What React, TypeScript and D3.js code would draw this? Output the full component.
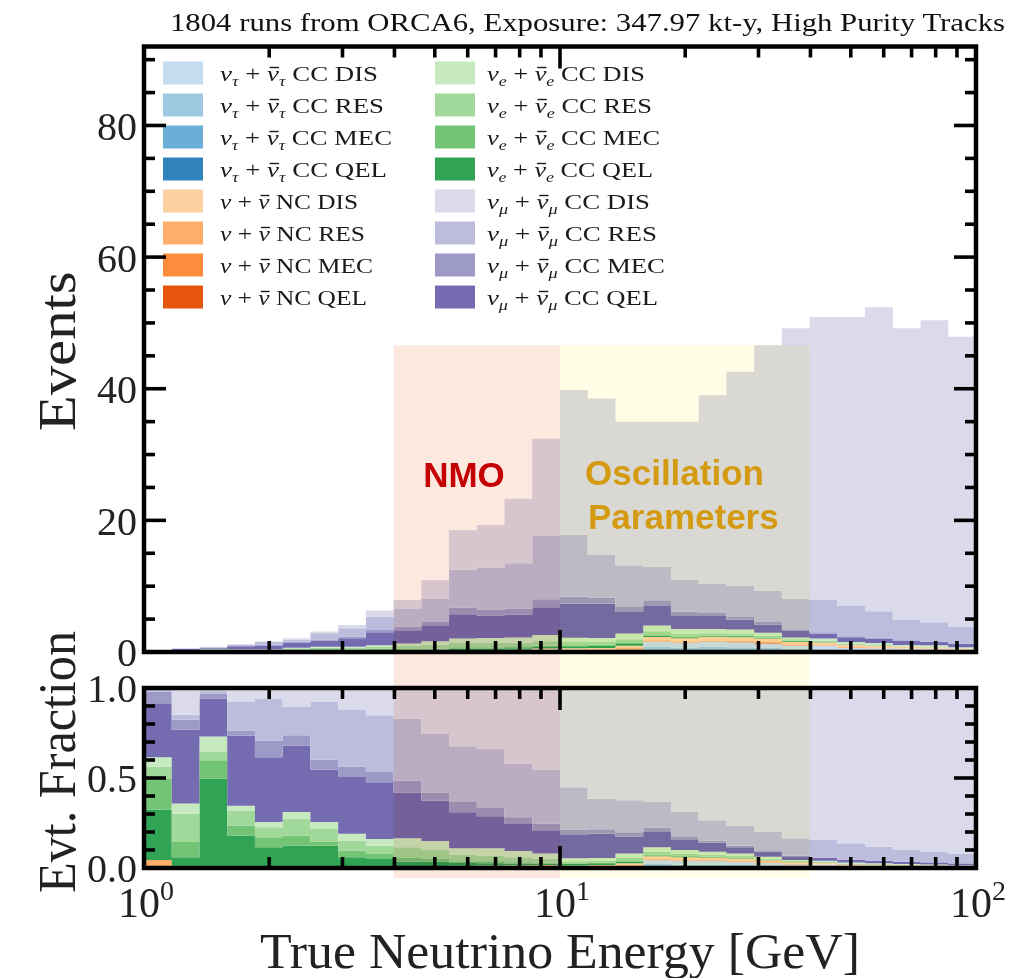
import React, { useLayoutEffect, useRef, useState } from 'react';
import * as d3 from 'd3';

// ---------------- DATA ----------------
// 30 log-spaced bins, 15 per decade, 1 GeV .. 100 GeV
const BIN_EDGES = [1, 1.166, 1.359, 1.585, 1.848, 2.154, 2.512, 2.929, 3.415, 3.981, 4.642, 5.412, 6.31, 7.356, 8.577, 10,
  11.66, 13.59, 15.85, 18.48, 21.54, 25.12, 29.29, 34.15, 39.81, 46.42, 54.12, 63.1, 73.56, 85.77, 100];

// total events per bin (top of the stack, upper panel)
const TOTAL_EVENTS = [0.2, 0.6, 0.7, 1.2, 1.6, 2.1, 3.1, 4.1, 6.3, 7.9, 10.9, 18.5, 19.3, 23.3, 32.4, 39.8,
  38.5, 35.0, 35.0, 35.0, 39.0, 42.6, 46.6, 49.2, 50.9, 50.9, 52.4, 49.2, 50.4, 47.9];

// event fractions per bin (lower panel)
const TAU_CC_QEL = [0, 0, 0, 0, 0, 0, 0, 0, 0, 0, 0.001, 0.001, 0.001, 0.001, 0.001, 0.001, 0.002, 0.002, 0.007, 0.006, 0.006, 0.005, 0.004, 0.003, 0.003, 0.002, 0.002, 0.001, 0.001, 0.001];
const TAU_CC_MEC = [0, 0, 0, 0, 0, 0, 0, 0, 0, 0, 0, 0, 0, 0, 0, 0, 0, 0, 0.002, 0.002, 0.002, 0.002, 0.001, 0.001, 0, 0, 0, 0, 0, 0];
const TAU_CC_RES = [0, 0, 0, 0, 0, 0, 0, 0, 0, 0, 0.001, 0.002, 0.002, 0.002, 0.002, 0.002, 0.003, 0.004, 0.013, 0.012, 0.012, 0.01, 0.008, 0.006, 0.005, 0.004, 0.003, 0.003, 0.003, 0.002];
const TAU_CC_DIS = [0, 0, 0, 0, 0, 0, 0, 0, 0, 0, 0.001, 0.002, 0.003, 0.004, 0.005, 0.005, 0.005, 0.006, 0.023, 0.02, 0.02, 0.018, 0.015, 0.01, 0.01, 0.007, 0.006, 0.006, 0.005, 0.004];

const NC_QEL = [0, 0, 0, 0, 0, 0, 0, 0, 0, 0, 0, 0, 0, 0, 0, 0, 0, 0.001, 0.001, 0.001, 0.001, 0.001, 0.001, 0.001, 0, 0, 0, 0, 0, 0];
const NC_MEC = [0, 0, 0, 0, 0, 0, 0, 0, 0, 0, 0, 0, 0, 0, 0, 0, 0, 0, 0, 0, 0, 0, 0, 0, 0, 0, 0, 0, 0, 0];
const NC_RES = [0.044, 0, 0, 0, 0, 0, 0, 0, 0, 0.001, 0.002, 0.002, 0.002, 0.002, 0.002, 0.002, 0.002, 0.004, 0.005, 0.005, 0.004, 0.004, 0.004, 0.003, 0.002, 0.002, 0.002, 0.001, 0.001, 0.001];
const NC_DIS = [0, 0, 0, 0, 0, 0, 0, 0, 0, 0.004, 0.005, 0.006, 0.006, 0.006, 0.006, 0.004, 0.004, 0.01, 0.014, 0.014, 0.013, 0.013, 0.01, 0.008, 0.008, 0.006, 0.005, 0.005, 0.004, 0.003];

const E_CC_QEL = [0.28, 0.06, 0.496, 0.18, 0.115, 0.125, 0.125, 0.06, 0.05, 0.03, 0.025, 0.015, 0.013, 0.01, 0.008, 0.008, 0.01, 0.008, 0.005, 0.004, 0.003, 0.003, 0.002, 0.002, 0.001, 0.001, 0.001, 0, 0, 0];
const E_CC_MEC = [0.17, 0.084, 0.102, 0.056, 0.056, 0.056, 0.02, 0.037, 0.028, 0.02, 0.015, 0.01, 0.01, 0.007, 0.005, 0.004, 0.004, 0.004, 0.003, 0.002, 0.002, 0.002, 0.001, 0.001, 0.001, 0, 0, 0, 0, 0];
const E_CC_RES = [0.07, 0.158, 0.046, 0.08, 0.056, 0.093, 0.074, 0.056, 0.046, 0.06, 0.05, 0.035, 0.033, 0.028, 0.021, 0.012, 0.01, 0.016, 0.017, 0.014, 0.01, 0.008, 0.006, 0.004, 0.004, 0.003, 0.003, 0.002, 0.002, 0.001];
const E_CC_DIS = [0.05, 0.056, 0.087, 0.03, 0.028, 0.037, 0.037, 0.037, 0.037, 0.05, 0.05, 0.037, 0.04, 0.035, 0.03, 0.016, 0.015, 0.025, 0.025, 0.02, 0.017, 0.014, 0.011, 0.006, 0.006, 0.005, 0.004, 0.004, 0.004, 0.003];

const MU_CC_QEL = [0.3, 0.41, 0.21, 0.39, 0.36, 0.37, 0.29, 0.316, 0.316, 0.255, 0.223, 0.2, 0.177, 0.15, 0.13, 0.13, 0.135, 0.094, 0.085, 0.056, 0.05, 0.035, 0.027, 0.02, 0.015, 0.014, 0.013, 0.012, 0.01, 0.01];
const MU_CC_MEC = [0.065, 0.056, 0.028, 0.028, 0.093, 0.056, 0.056, 0.056, 0.056, 0.065, 0.046, 0.056, 0.046, 0.037, 0.037, 0.028, 0.025, 0.025, 0.025, 0.02, 0.012, 0.01, 0.008, 0.005, 0.004, 0.003, 0.003, 0.002, 0.002, 0.002];
const MU_CC_RES = [0.02, 0.028, 0.016, 0.158, 0.232, 0.158, 0.322, 0.316, 0.316, 0.344, 0.325, 0.31, 0.33, 0.297, 0.297, 0.236, 0.17, 0.178, 0.145, 0.137, 0.113, 0.11, 0.102, 0.095, 0.096, 0.09, 0.076, 0.064, 0.058, 0.054];
const MU_CC_DIS = [0, 0.148, 0.015, 0.078, 0.06, 0.105, 0.076, 0.122, 0.151, 0.171, 0.256, 0.324, 0.337, 0.421, 0.456, 0.552, 0.615, 0.623, 0.63, 0.687, 0.735, 0.765, 0.8, 0.835, 0.845, 0.863, 0.882, 0.9, 0.91, 0.919];

const TITLE = '1804 runs from ORCA6, Exposure: 347.97 kt-y, High Purity Tracks';
const TOP_Y_TICKS = [0, 20, 40, 60, 80];
const LOW_Y_TICKS = [0, 0.5, 1.0];
const LOW_Y_LABELS = ['0.0', '0.5', '1.0'];
const X_MAJOR = [1, 10, 100];
const X_MAJOR_EXP = ['0', '1', '2'];

// regions (GeV)
const NMO_RANGE = [3.981, 10];
const OSC_RANGE = [10, 39.81];
const REGION_TOP_EVENTS = 46.6;

// stack, bottom -> top
type Comp = { key: string; flav: string; mode: string; frac: number[]; color: string };
const STACK: Comp[] = [
  { key: 'tauQEL', flav: 'tau', mode: 'QEL', frac: TAU_CC_QEL, color: '#3182bd' },
  { key: 'tauMEC', flav: 'tau', mode: 'MEC', frac: TAU_CC_MEC, color: '#6baed6' },
  { key: 'tauRES', flav: 'tau', mode: 'RES', frac: TAU_CC_RES, color: '#9ecae1' },
  { key: 'tauDIS', flav: 'tau', mode: 'DIS', frac: TAU_CC_DIS, color: '#c6dbef' },
  { key: 'ncQEL', flav: 'nc', mode: 'QEL', frac: NC_QEL, color: '#e6550d' },
  { key: 'ncMEC', flav: 'nc', mode: 'MEC', frac: NC_MEC, color: '#fd8d3c' },
  { key: 'ncRES', flav: 'nc', mode: 'RES', frac: NC_RES, color: '#fdae6b' },
  { key: 'ncDIS', flav: 'nc', mode: 'DIS', frac: NC_DIS, color: '#fdd0a2' },
  { key: 'eQEL', flav: 'e', mode: 'QEL', frac: E_CC_QEL, color: '#31a354' },
  { key: 'eMEC', flav: 'e', mode: 'MEC', frac: E_CC_MEC, color: '#74c476' },
  { key: 'eRES', flav: 'e', mode: 'RES', frac: E_CC_RES, color: '#a1d99b' },
  { key: 'eDIS', flav: 'e', mode: 'DIS', frac: E_CC_DIS, color: '#c7e9c0' },
  { key: 'muQEL', flav: 'mu', mode: 'QEL', frac: MU_CC_QEL, color: '#756bb1' },
  { key: 'muMEC', flav: 'mu', mode: 'MEC', frac: MU_CC_MEC, color: '#9e9ac8' },
  { key: 'muRES', flav: 'mu', mode: 'RES', frac: MU_CC_RES, color: '#bcbddc' },
  { key: 'muDIS', flav: 'mu', mode: 'DIS', frac: MU_CC_DIS, color: '#dadaeb' },
];
const LEGEND_COL1 = ['tauDIS', 'tauRES', 'tauMEC', 'tauQEL', 'ncDIS', 'ncRES', 'ncMEC', 'ncQEL'];
const LEGEND_COL2 = ['eDIS', 'eRES', 'eMEC', 'eQEL', 'muDIS', 'muRES', 'muMEC', 'muQEL'];
const LEGEND_WIDTH_COL1 = [158, 164, 172, 167, 138, 145, 153, 147];
const LEGEND_WIDTH_COL2 = [158, 165, 173, 166, 163, 170, 178, 171];

// ---------------- LAYOUT ----------------
const W = 1036, H = 978;
const X0 = 144, X1 = 976;
const TOP_Y0 = 46.5, TOP_Y1 = 652;
const LOW_Y0 = 688, LOW_Y1 = 868;
const SERIF = "'Liberation Serif', 'Times New Roman', serif";
const SANS = "'Liberation Sans', Arial, sans-serif";

function NuText({ flav, mode, x, y, w }: { flav: string; mode: string; x: number; y: number; w: number }) {
  const fs = 22;
  const sub = flav === 'tau' ? 'τ' : flav === 'e' ? 'e' : flav === 'mu' ? 'μ' : '';
  const kind = flav === 'nc' ? 'NC' : 'CC';
  const barIdx = sub ? 5 : 4;
  return (
    <text x={x} y={y} fontFamily={SERIF} fontSize={fs} fill="#1a1a1a" data-nubar={barIdx}
      textLength={w} lengthAdjust="spacingAndGlyphs">
      <tspan fontStyle="italic">ν</tspan>
      {sub && <tspan fontStyle="italic" fontSize={15} dy={5}>{sub}</tspan>}
      <tspan dy={sub ? -5 : 0}>{' + '}</tspan>
      <tspan fontStyle="italic">ν</tspan>
      {sub && <tspan fontStyle="italic" fontSize={15} dy={5}>{sub}</tspan>}
      <tspan dy={sub ? -5 : 0}>{` ${kind} ${mode}`}</tspan>
    </text>
  );
}

export default function App() {
  const legendRef = useRef<SVGGElement>(null);
  const [bars, setBars] = useState<{ x1: number; x2: number; y: number }[]>([]);

  useLayoutEffect(() => {
    const g = legendRef.current;
    if (!g) return;
    const out: { x1: number; x2: number; y: number }[] = [];
    g.querySelectorAll('text[data-nubar]').forEach((t: any) => {
      const idx = +t.getAttribute('data-nubar');
      try {
        const r = t.getExtentOfChar(idx);
        out.push({ x1: r.x + r.width * 0.22, x2: r.x + r.width * 1.0, y: r.y + r.height * 0.26 });
      } catch (e) { /* ignore */ }
    });
    setBars(out);
  }, []);

  const x = d3.scaleLog().domain([1, 100]).range([X0, X1]);
  const yTop = d3.scaleLinear().domain([0, 92]).range([TOP_Y1, TOP_Y0]);
  const yLow = d3.scaleLinear().domain([0, 1]).range([LOW_Y1, LOW_Y0]);
  const nBins = TOTAL_EVENTS.length;

  const sums = d3.range(nBins).map(i => d3.sum(STACK, c => c.frac[i]));
  const cumFrac: number[][] = [];
  let acc = new Array(nBins).fill(0);
  STACK.forEach(c => {
    const lo = acc.slice();
    const hi = acc.map((a, i) => a + c.frac[i] / sums[i]);
    cumFrac.push(lo, hi);
    acc = hi;
  });

  const stepArea = (lo: number[], hi: number[], ys: (v: number) => number, scaleTot: boolean) => {
    const pts = BIN_EDGES.map((e, i) => {
      const b = Math.min(i, nBins - 1);
      const t = scaleTot ? TOTAL_EVENTS[b] : 1;
      return { e, y0: lo[b] * t, y1: hi[b] * t };
    });
    return d3.area<any>().x(d => x(d.e)).y0(d => ys(d.y0)).y1(d => ys(d.y1)).curve(d3.curveStepAfter)(pts) || '';
  };

  const minorX: number[] = [];
  [1, 10].forEach(dec => { for (let m = 2; m <= 9; m++) minorX.push(dec * m); });

  const tickW = 3.6;
  const majL = 22, minL = 11;

  const panelTicks = (y0: number, y1: number, yMaj: number[], yMin: number[]) => (
    <g stroke="#000" strokeWidth={tickW}>
      {X_MAJOR.map(v => (
        <g key={'xm' + v}>
          <line x1={x(v)} x2={x(v)} y1={y1} y2={y1 - majL} />
          <line x1={x(v)} x2={x(v)} y1={y0} y2={y0 + majL} />
        </g>
      ))}
      {minorX.map(v => (
        <g key={'xn' + v}>
          <line x1={x(v)} x2={x(v)} y1={y1} y2={y1 - minL} />
          <line x1={x(v)} x2={x(v)} y1={y0} y2={y0 + minL} />
        </g>
      ))}
      {yMaj.map((py, i) => (
        <g key={'ym' + i}>
          <line x1={X0} x2={X0 + majL} y1={py} y2={py} />
          <line x1={X1} x2={X1 - majL} y1={py} y2={py} />
        </g>
      ))}
      {yMin.map((py, i) => (
        <g key={'yn' + i}>
          <line x1={X0} x2={X0 + minL} y1={py} y2={py} />
          <line x1={X1} x2={X1 - minL} y1={py} y2={py} />
        </g>
      ))}
    </g>
  );

  const topMinor = d3.range(5, 92, 5).filter(v => v % 20 !== 0).map(v => yTop(v));
  const lowMinor = d3.range(1, 10).filter(v => v !== 5).map(v => yLow(v / 10));

  const regionTop = yTop(REGION_TOP_EVENTS);
  const regionBottom = LOW_Y1 + 10;
  const byKey: Record<string, Comp> = {};
  STACK.forEach(c => (byKey[c.key] = c));

  return (
    <svg width={W} height={H} viewBox={`0 0 ${W} ${H}`} style={{ position: 'absolute', left: 0, top: 0, background: '#fff' }}>
      <rect x={0} y={0} width={W} height={H} fill="#fff" />
      {/* title */}
      <text x={170} y={31} fontFamily={SERIF} fontSize={26} textLength={835} lengthAdjust="spacingAndGlyphs" fill="#111">{TITLE}</text>

      {/* stacked histograms */}
      <g>
        {STACK.map((c, k) => (
          <path key={'t' + c.key} d={stepArea(cumFrac[2 * k], cumFrac[2 * k + 1], yTop, true)} fill={c.color} />
        ))}
        {STACK.map((c, k) => (
          <path key={'l' + c.key} d={stepArea(cumFrac[2 * k], cumFrac[2 * k + 1], yLow, false)} fill={c.color} />
        ))}
      </g>

      {/* legend */}
      <g ref={legendRef}>
        {LEGEND_COL1.map((k, i) => (
          <g key={'lg1' + k}>
            <rect x={163} y={61.5 + 32 * i} width={40} height={23} fill={byKey[k].color} />
            <NuText flav={byKey[k].flav} mode={byKey[k].mode} x={220} y={81 + 32 * i} w={LEGEND_WIDTH_COL1[i]} />
          </g>
        ))}
        {LEGEND_COL2.map((k, i) => (
          <g key={'lg2' + k}>
            <rect x={435} y={61.5 + 32 * i} width={40} height={23} fill={byKey[k].color} />
            <NuText flav={byKey[k].flav} mode={byKey[k].mode} x={487} y={81 + 32 * i} w={LEGEND_WIDTH_COL2[i]} />
          </g>
        ))}
        {bars.map((b, i) => (
          <line key={'bar' + i} x1={b.x1} x2={b.x2} y1={b.y} y2={b.y} stroke="#1a1a1a" strokeWidth={1.4} />
        ))}
      </g>

      {/* highlighted regions */}
      <rect x={x(NMO_RANGE[0])} y={regionTop} width={x(NMO_RANGE[1]) - x(NMO_RANGE[0])} height={regionBottom - regionTop}
        fill="#fde8e0" style={{ mixBlendMode: 'multiply' }} />
      <rect x={x(OSC_RANGE[0])} y={regionTop} width={x(OSC_RANGE[1]) - x(OSC_RANGE[0])} height={regionBottom - regionTop}
        fill="#fffde5" style={{ mixBlendMode: 'multiply' }} />

      {/* frames + ticks */}
      {panelTicks(TOP_Y0, TOP_Y1, TOP_Y_TICKS.map(v => yTop(v)), topMinor)}
      {panelTicks(LOW_Y0, LOW_Y1, LOW_Y_TICKS.map(v => yLow(v)), lowMinor)}
      <rect x={X0} y={TOP_Y0} width={X1 - X0} height={TOP_Y1 - TOP_Y0} fill="none" stroke="#000" strokeWidth={4.5} />
      <rect x={X0} y={LOW_Y0} width={X1 - X0} height={LOW_Y1 - LOW_Y0} fill="none" stroke="#000" strokeWidth={4.5} />

      {/* region labels */}
      <text x={464} y={487} textAnchor="middle" fontFamily={SANS} fontWeight="bold" fontSize={35} fill="#c40000">NMO</text>
      <text x={585} y={485} fontFamily={SANS} fontWeight="bold" fontSize={35} fill="#d49b12">Oscillation</text>
      <text x={588} y={529} fontFamily={SANS} fontWeight="bold" fontSize={35} fill="#d49b12">Parameters</text>

      {/* y tick labels */}
      {TOP_Y_TICKS.map(v => (
        <text key={'tyl' + v} x={137} y={yTop(v)} dy="0.36em" textAnchor="end" fontFamily={SERIF} fontSize={40} fill="#222">{v}</text>
      ))}
      {LOW_Y_TICKS.map((v, i) => (
        <text key={'lyl' + v} x={137} y={yLow(v)} dy="0.36em" textAnchor="end" fontFamily={SERIF} fontSize={40} fill="#222">{LOW_Y_LABELS[i]}</text>
      ))}
      {/* x tick labels */}
      {X_MAJOR.map((v, i) => (
        <text key={'xl' + v} x={x(v) + 2} y={917} textAnchor="middle" fontFamily={SERIF} fontSize={42} fill="#222">
          10<tspan fontSize={28} dy={-17}>{X_MAJOR_EXP[i]}</tspan>
        </text>
      ))}
      {/* axis labels */}
      <text x={560} y={968} textAnchor="middle" fontFamily={SERIF} fontSize={50} textLength={600} lengthAdjust="spacingAndGlyphs" fill="#222">True Neutrino Energy [GeV]</text>
      <text transform={`translate(75,${(TOP_Y0 + TOP_Y1) / 2 + 2}) rotate(-90)`} textAnchor="middle" fontFamily={SERIF} fontSize={52} textLength={160} lengthAdjust="spacingAndGlyphs" fill="#222">Events</text>
      <text transform={`translate(75,762) rotate(-90)`} textAnchor="middle" fontFamily={SERIF} fontSize={52} textLength={262} lengthAdjust="spacingAndGlyphs" fill="#222">Evt. Fraction</text>
    </svg>
  );
}
